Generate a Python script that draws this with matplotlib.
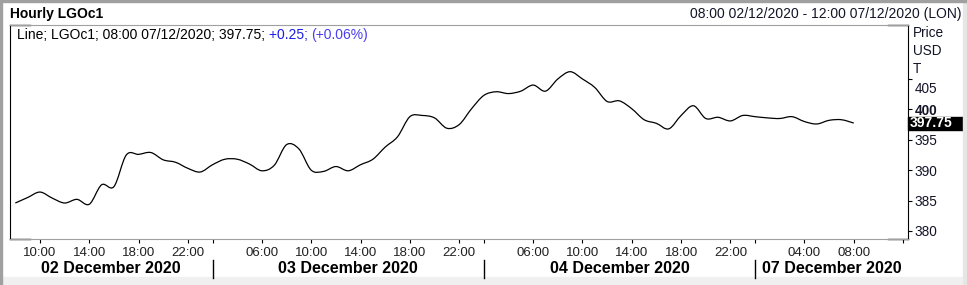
import matplotlib

matplotlib.use("Agg")
import matplotlib.pyplot as plt
import numpy as np
from matplotlib.lines import Line2D
from matplotlib.patches import PathPatch, Rectangle
from matplotlib.path import Path
from matplotlib.transforms import ScaledTranslation, blended_transform_factory

plt.rcParams["font.family"] = ["Liberation Sans", "DejaVu Sans"]

# hourly closes, LGOc1, 08:00 02/12 .. 08:00 07/12 (trading hours only)
PRICES = [
    384.6, 385.5, 386.4, 385.4, 384.6, 385.2, 384.4, 387.6, 387.3, 392.5,
    392.6, 392.9, 391.7, 391.3, 390.3, 389.7, 390.9, 391.8, 391.8, 391.0,
    389.9, 390.8, 394.2, 393.5, 390.0, 389.8, 390.6, 389.9, 390.9, 391.8,
    393.8, 395.5, 398.8, 399.0, 398.6, 396.9, 397.5, 400.1, 402.3, 402.9,
    402.6, 403.0, 404.0, 403.0, 405.0, 406.2, 405.0, 403.6, 401.3, 401.4,
    400.1, 398.3, 397.7, 396.8, 399.0, 400.6, 398.5, 398.7, 398.1, 399.0,
    398.8, 398.6, 398.5, 398.8, 398.0, 397.6, 398.2, 398.3, 397.75,
]
LAST_PRICE = 397.75

HOUR_TICKS = [2, 6, 10, 14, 20, 24, 28, 32, 36, 42, 46, 50, 54, 58, 64, 68]
HOUR_LABELS = ["10:00", "14:00", "18:00", "22:00",
               "06:00", "10:00", "14:00", "18:00", "22:00",
               "06:00", "10:00", "14:00", "18:00", "22:00",
               "04:00", "08:00"]
DAY_BREAKS = [16, 38, 60]
DAY_LABELS = ["02 December 2020", "03 December 2020",
              "04 December 2020", "07 December 2020"]
Y_TICKS = [380, 385, 390, 395, 400, 405]

W, H = 967, 285
XLIM = (-0.43, 72.4)
YLIM = (378.68, 413.88)
TEXT = "#141428"


def fy(px):
    return 1 - px / H


def smooth_path(x, y):
    # Catmull-Rom through every point, drawn as cubic Bezier segments
    x = np.asarray(x, float)
    y = np.asarray(y, float)
    px = np.concatenate([[x[0]], x, [x[-1]]])
    py = np.concatenate([[y[0]], y, [y[-1]]])
    verts = [(x[0], y[0])]
    codes = [Path.MOVETO]
    for i in range(1, len(x)):
        c1 = (px[i] + (px[i + 1] - px[i - 1]) / 6, py[i] + (py[i + 1] - py[i - 1]) / 6)
        c2 = (px[i + 1] - (px[i + 2] - px[i]) / 6, py[i + 1] - (py[i + 2] - py[i]) / 6)
        verts += [c1, c2, (x[i], y[i])]
        codes += [Path.CURVE4] * 3
    return Path(verts, codes)


def main():
    fig = plt.figure(figsize=(W / 100, H / 100), dpi=100)

    # outer frame
    fig.patches.append(Rectangle((0, fy(285)), 1, 8 / H, transform=fig.transFigure,
                                 color="#f0f0f0", zorder=0))
    fig.patches.append(Rectangle((963 / W, 0), 4 / W, 1, transform=fig.transFigure,
                                 color="#e6e6e6", zorder=0))
    fig.patches.append(Rectangle((0, fy(2)), 1, 2 / H, transform=fig.transFigure,
                                 color="#a0a0a0", zorder=0))
    fig.patches.append(Rectangle((0, 0), 2 / W, 1, transform=fig.transFigure,
                                 color="#a0a0a0", zorder=0))

    ax = fig.add_axes([10 / W, fy(239), 898 / W, 214 / H])
    ax.add_patch(PathPatch(smooth_path(range(len(PRICES)), PRICES), facecolor="none",
                           edgecolor="black", lw=0.9))
    ax.set_xlim(*XLIM)
    ax.set_ylim(*YLIM)

    for side in ("top", "bottom"):
        ax.spines[side].set_color("#a0a0a0")
    for side in ("left", "right"):
        ax.spines[side].set_color("black")
    # black stubs at the ends of top/bottom lines
    for yy in (0, 1):
        ax.plot([0, 20 / 898], [yy, yy], transform=ax.transAxes, color="black",
                lw=1, clip_on=False)
        ax.plot([878 / 898, 1], [yy, yy], transform=ax.transAxes, color="black",
                lw=1, clip_on=False)

    # y axis on the right
    ax.yaxis.tick_right()
    ax.set_yticks(Y_TICKS)
    ax.set_yticklabels([str(v) for v in Y_TICKS])
    ax.tick_params(axis="y", direction="out", length=3, pad=2, labelsize=9.8,
                   labelcolor=TEXT)
    for lab in ax.get_yticklabels():
        if lab.get_text() == "400":
            lab.set_fontweight("bold")
        if lab.get_text() == "405":
            lab.set_transform(lab.get_transform()
                              + ScaledTranslation(0, -8.5 / 100, fig.dpi_scale_trans))
    for txt, ypx in (("Price", 33), ("USD", 51), ("T", 69)):
        fig.text(913 / W, fy(ypx), txt, fontsize=9.8, color=TEXT, va="center", ha="left")

    # last price flag
    yt = blended_transform_factory(ax.transAxes, ax.transData)
    ax.add_patch(Rectangle((1.0, LAST_PRICE - 1.07), 56 / 898, 2.14, transform=yt,
                           color="black", clip_on=False, zorder=5))
    ax.text(1.0 + 2 / 898, LAST_PRICE, f"{LAST_PRICE:.2f}", transform=yt, color="white",
            fontsize=10, fontweight="bold", va="center", ha="left", zorder=6)

    # x axis
    ax.set_xticks(HOUR_TICKS + DAY_BREAKS + [72])
    ax.set_xticklabels(HOUR_LABELS + [""] * (len(DAY_BREAKS) + 1))
    ax.tick_params(axis="x", direction="out", length=3, pad=3, labelsize=9.5,
                   labelcolor="#202020")

    xt = blended_transform_factory(ax.transData, fig.transFigure)
    for b in DAY_BREAKS:
        fig.lines.append(Line2D([b, b], [fy(260), fy(278)], transform=xt,
                                color="black", lw=1))
    bounds = [XLIM[0]] + DAY_BREAKS + [XLIM[1]]
    for i, lab in enumerate(DAY_LABELS):
        fig.text((bounds[i] + bounds[i + 1]) / 2, fy(268.5), lab, transform=xt,
                 fontsize=11.5, fontweight="bold", ha="center", va="center", color="black")

    # header
    fig.text(10.5 / W, fy(14), "Hourly LGOc1", fontsize=10, fontweight="bold",
             va="center", ha="left", color="black")
    fig.text(962 / W, fy(14), "08:00 02/12/2020 - 12:00 07/12/2020 (LON)", fontsize=10,
             va="center", ha="right", color=TEXT)

    # legend line
    t = fig.text(17 / W, fy(35), "Line; LGOc1; 08:00 07/12/2020; 397.75; ", fontsize=10,
                 va="center", ha="left", color="black")
    fig.canvas.draw()
    bb = t.get_window_extent()
    t2 = fig.text(bb.x1 / W, fy(35), "+0.25; ", fontsize=10, va="center", ha="left",
                  color="#1c1ce8")
    fig.canvas.draw()
    bb2 = t2.get_window_extent()
    fig.text(bb2.x1 / W, fy(35), "(+0.06%)", fontsize=10, va="center", ha="left",
             color="#4a3df0")

    fig.savefig("out.png", dpi=100)
    plt.close(fig)


if __name__ == "__main__":
    main()
